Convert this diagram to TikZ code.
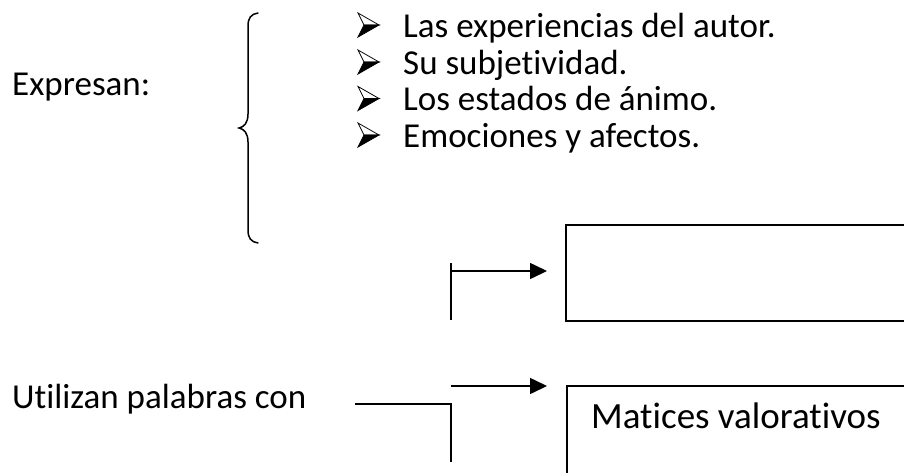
\documentclass[tikz,border=0pt]{standalone}
\usepackage{fontspec}
\setmainfont{Carlito}[Ligatures=NoCommon, RawFeature={-liga;-calt;-dlig}]
\usetikzlibrary{arrows.meta}
\begin{document}
\begin{tikzpicture}[x=1pt,y=-1pt,
  txt/.style={font=\fontsize{35}{42}\selectfont, inner sep=0pt, anchor=base west},
  bigtxt/.style={font=\fontsize{37}{44}\selectfont, inner sep=0pt, anchor=base west},
  ln/.style={line width=1.6pt},
  arr/.style={line width=1.6pt, -{Triangle[length=17pt,width=16pt]}},
  boxstyle/.style={draw, line width=1.6pt, inner sep=0pt, anchor=north west},
  bul/.pic={
    \draw[line width=0.8pt, fill=white, line join=miter] (-21,-12) -- (0,0) -- (-15,0) -- cycle;
    \draw[line width=0.8pt, fill=black, line join=miter] (-15,0) -- (0,0) -- (-21,12) -- cycle;
  }]
\useasboundingbox (0,0) rectangle (904,472);
\clip (0,0) rectangle (904,472);

% left texts
\node[txt] (expresan) at (12,95) {Expresan:};
\node[txt] (utilizan) at (12,408) {Utilizan palabras con};

% brace
\draw[line width=1.5pt, line cap=round] (258,13) .. controls (251,14) and (248,18) .. (248,26)
  -- (248,114) .. controls (248,123) and (244,127) .. (239,128)
  .. controls (244,129) and (248,133) .. (248,142)
  -- (248,230) .. controls (248,238) and (251,242) .. (258,243);

% bullet list
\foreach \b/\t [count=\i] in {37/{Las experiencias del autor.},74/{Su subjetividad.},110.5/{Los estados de ánimo.},147/{Emociones y afectos.}}{
  \pic at (379,\b-12) {bul};
  \node[txt] (item\i) at (403,\b) {\t};
}

% boxes
\node[boxstyle, minimum width=400pt, minimum height=96pt] (box1) at (565,224) {};
\node[boxstyle, minimum width=400pt, minimum height=120pt] (box2) at (566,385) {};
\node[bigtxt] (matices) at (591,428) {Matices valorativos};

% top connector
\coordinate (a1) at (451,263);
\coordinate (a2) at (451,320);
\coordinate (a3) at (451,271);
\coordinate (a4) at (547,271);
\draw[ln] (a1) -- (a2);
\draw[arr] (a3) -- (a4);

% bottom connector
\coordinate (b1) at (355,404);
\coordinate (b2) at (451,404);
\coordinate (b3) at (451,462);
\coordinate (b4) at (451,386);
\coordinate (b5) at (547,386);
\draw[ln] (b1) -- (b2) -- (b3);
\draw[arr] (b4) -- (b5);
\end{tikzpicture}
\end{document}
